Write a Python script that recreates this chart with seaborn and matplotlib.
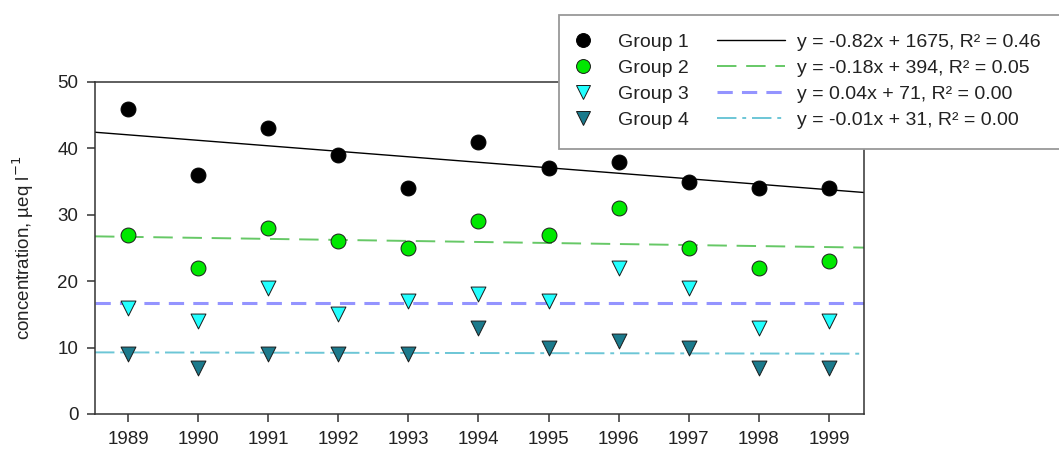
import numpy as np
import pandas as pd
import matplotlib
matplotlib.use("Agg")
import matplotlib.pyplot as plt
from matplotlib.lines import Line2D
from matplotlib.patches import Rectangle
import seaborn as sns

years = [1989, 1990, 1991, 1992, 1993, 1994, 1995, 1996, 1997, 1998, 1999]
group1 = [46, 36, 43, 39, 34, 41, 37, 38, 35, 34, 34]
group2 = [27, 22, 28, 26, 25, 29, 27, 31, 25, 22, 23]
group3 = [16, 14, 19, 15, 17, 18, 17, 22, 19, 13, 14]
group4 = [9, 7, 9, 9, 9, 13, 10, 11, 10, 7, 7]
group_names = ["Group 1", "Group 2", "Group 3", "Group 4"]
equations = [
    "y = -0.82x + 1675, R² = 0.46",
    "y = -0.18x + 394, R² = 0.05",
    "y = 0.04x + 71, R² = 0.00",
    "y = -0.01x + 31, R² = 0.00",
]
yticks = [0, 10, 20, 30, 40, 50]

sns.set_style("ticks")
plt.rcParams["font.family"] = ["Liberation Sans", "DejaVu Sans"]

FS = 13.5
LFS = 14
W, H = 1059, 453
fig = plt.figure(figsize=(W / 100, H / 100), dpi=100)
ax = fig.add_axes([95 / W, 1 - 414 / H, 769 / W, 332 / H])

series = [group1, group2, group3, group4]
marker_styles = [
    dict(marker="o", facecolor="black", edgecolor="black"),
    dict(marker="o", facecolor="#00e800", edgecolor="#1a1a1a"),
    dict(marker="v", facecolor="#22ffff", edgecolor="#1a1a1a"),
    dict(marker="v", facecolor="#1b7a8c", edgecolor="#1a1a1a"),
]
line_styles = [
    dict(color="black", lw=1.0, ls="-"),
    dict(color="#66c866", lw=1.4, ls=(0, (10, 5))),
    dict(color="#9494ff", lw=2.2, ls=(0, (5, 3))),
    dict(color="#6cc6d6", lw=1.4, ls=(0, (10, 3, 2, 3))),
]

ax.set_xlim(1988.53, 1999.5)
ax.set_ylim(0, 50)

for vals, ms, lsd in zip(series, marker_styles, line_styles):
    df = pd.DataFrame({"year": years, "value": vals})
    sns.regplot(data=df, x="year", y="value", ax=ax, ci=None, truncate=False,
                scatter=False, line_kws=dict(color=lsd["color"], lw=lsd["lw"], ls=lsd["ls"]))
    sns.scatterplot(data=df, x="year", y="value", ax=ax, marker=ms["marker"],
                    color=ms["facecolor"], edgecolor=ms["edgecolor"], linewidth=0.7,
                    s=115, zorder=5)

ax.set_xlim(1988.53, 1999.5)
ax.set_ylim(0, 50)
ax.set_xticks(years)
ax.set_xticklabels([str(y) for y in years])
ax.set_yticks(yticks)
ax.tick_params(axis="both", labelsize=FS, direction="out", length=6, width=1.1,
               colors="#333333", labelcolor="#222222", pad=6)
ax.set_xlabel("")
ax.set_ylabel("concentration, µeq l$^{-1}$", fontsize=FS, color="#222222")
ax.yaxis.set_label_coords(-0.077, 0.5)
for sp in ax.spines.values():
    sp.set_visible(True)
    sp.set_linewidth(1.1)
    sp.set_color("#333333")

# Legend frame and entries
fig.patches.append(Rectangle((559 / W, 1 - 149 / H), 530 / W, 134 / H,
                             transform=fig.transFigure, facecolor="white",
                             edgecolor="#999999", lw=1.3, zorder=10))
mk_handles = [Line2D([], [], ls="none", marker=ms["marker"], markersize=10,
                     markerfacecolor=ms["facecolor"], markeredgecolor=ms["edgecolor"],
                     markeredgewidth=0.7) for ms in marker_styles]
ln_handles = [Line2D([], [], color=l["color"], lw=l["lw"], ls=l["ls"]) for l in line_styles]
top = 1 - 33 / H
leg1 = fig.legend(mk_handles, group_names, loc="upper left",
                  bbox_to_anchor=(571 / W, top), frameon=False,
                  fontsize=LFS, handlelength=1.2, handletextpad=1.2, labelspacing=0.44,
                  borderpad=0, borderaxespad=0)
leg1.set_zorder(11)
leg2 = fig.legend(ln_handles, equations, loc="upper left",
                  bbox_to_anchor=(717 / W, top), frameon=False,
                  fontsize=LFS, handlelength=3.5, handletextpad=0.62, labelspacing=0.44,
                  borderpad=0, borderaxespad=0)
leg2.set_zorder(11)
for leg in (leg1, leg2):
    for t in leg.get_texts():
        t.set_color("#222222")

fig.savefig("out.png", dpi=100)
